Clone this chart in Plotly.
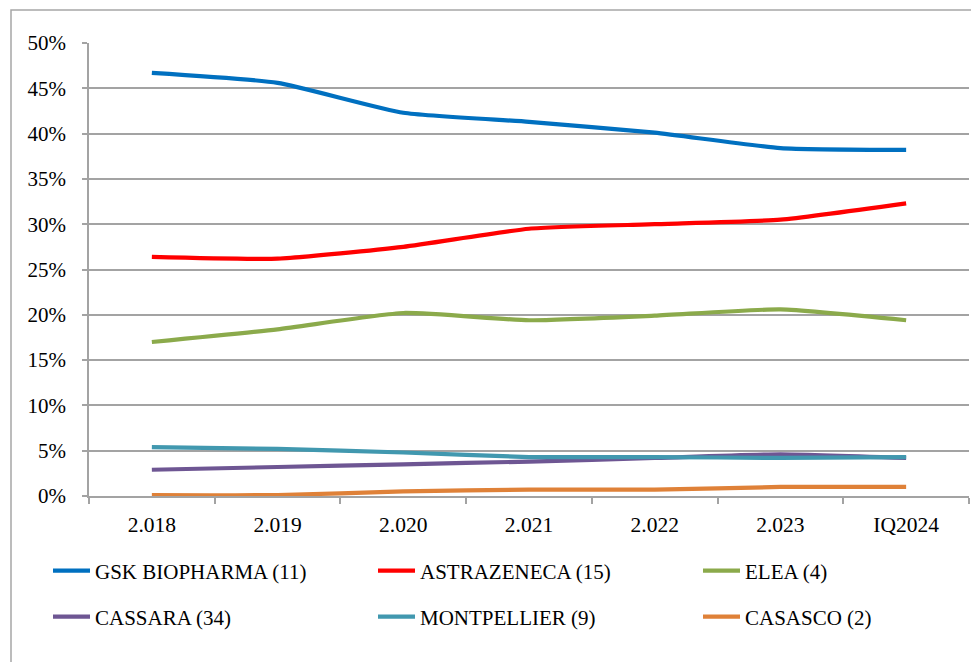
import plotly.graph_objects as go

categories = ["2.018", "2.019", "2.020", "2.021", "2.022", "2.023", "IQ2024"]

gsk = [0.467, 0.456, 0.423, 0.413, 0.401, 0.384, 0.382]
astrazeneca = [0.264, 0.262, 0.275, 0.295, 0.300, 0.305, 0.323]
elea = [0.170, 0.184, 0.202, 0.194, 0.199, 0.206, 0.194]
cassara = [0.029, 0.032, 0.035, 0.038, 0.042, 0.046, 0.042]
montpellier = [0.054, 0.052, 0.048, 0.043, 0.043, 0.042, 0.043]
casasco = [0.001, 0.001, 0.005, 0.007, 0.007, 0.010, 0.010]

series_names = ["GSK BIOPHARMA (11)", "ASTRAZENECA (15)", "ELEA (4)",
                "CASSARA (34)", "MONTPELLIER (9)", "CASASCO (2)"]
series_values = [gsk, astrazeneca, elea, cassara, montpellier, casasco]
series_colors = ["#0070C0", "#FF0000", "#8BAA4B", "#6E5693", "#4198AF", "#DF8138"]

FONT = "Liberation Serif"
GRID = "#A3A3A3"

# page offset (default body margin of the html page)
OFF = 8
W, H = 979, 662
# target plot area in screen pixels
PL, PR, PT, PB = 89, 969, 43, 496
L = PL - OFF
T = PT - OFF
R = W - (PR - OFF)
B = H - (PB - OFF)
pw = W - L - R
ph = H - T - B

def px_x(x):
    return (x - OFF - L) / pw

def px_y(y):
    return (H - B - (y - OFF)) / ph

# legend slots: (left px, centre y px) in screen pixels
legend_slots = [(48, 571), (373, 571), (698, 571),
                (48, 617), (373, 617), (698, 617)]

fig = go.Figure()
legends = {}
for i, (name, vals, col) in enumerate(zip(series_names, series_values, series_colors)):
    key = "legend" if i == 0 else f"legend{i + 1}"
    fig.add_trace(go.Scatter(
        x=categories, y=vals, name=name, mode="lines",
        line=dict(color=col, width=4.2, shape="spline", smoothing=0.5),
        legend=key,
    ))
    lx, ly = legend_slots[i]
    legends[key] = dict(
        x=px_x(lx), y=px_y(ly), xanchor="left", yanchor="middle",
        orientation="h",
        font=dict(family=FONT, size=21, color="#000000"),
        bgcolor="rgba(0,0,0,0)", borderwidth=0, itemwidth=37,
    )

fig.update_layout(
    width=W, height=H,
    margin=dict(l=L, r=R, t=T, b=B, autoexpand=False),
    paper_bgcolor="white", plot_bgcolor="white",
    font=dict(family=FONT, size=21, color="#000000"),
    showlegend=True,
    xaxis=dict(
        type="category", range=[-0.5, 6.5],
        showgrid=False, showline=True, linecolor=GRID, linewidth=1.5,
        ticks="outside", tickson="boundaries", ticklen=6, tickcolor=GRID, tickwidth=1.5,
        tickfont=dict(family=FONT, size=21.5), ticklabelstandoff=8,
        zeroline=False, fixedrange=True,
    ),
    yaxis=dict(
        range=[0, 0.5], dtick=0.05, tickformat=".0%",
        showgrid=True, gridcolor=GRID, gridwidth=1.5,
        showline=True, linecolor=GRID, linewidth=1.5,
        ticks="outside", ticklen=5, tickcolor=GRID, tickwidth=1.5,
        tickfont=dict(family=FONT, size=21), ticklabelstandoff=12,
        zeroline=False, fixedrange=True,
    ),
    shapes=[dict(
        type="rect", xref="paper", yref="paper",
        x0=px_x(11), x1=px_x(1200), y0=px_y(900), y1=px_y(10),
        line=dict(color="#A6A6A6", width=1.5), fillcolor="rgba(0,0,0,0)", layer="below",
    )],
    **legends,
)

fig.write_html("out.html")
